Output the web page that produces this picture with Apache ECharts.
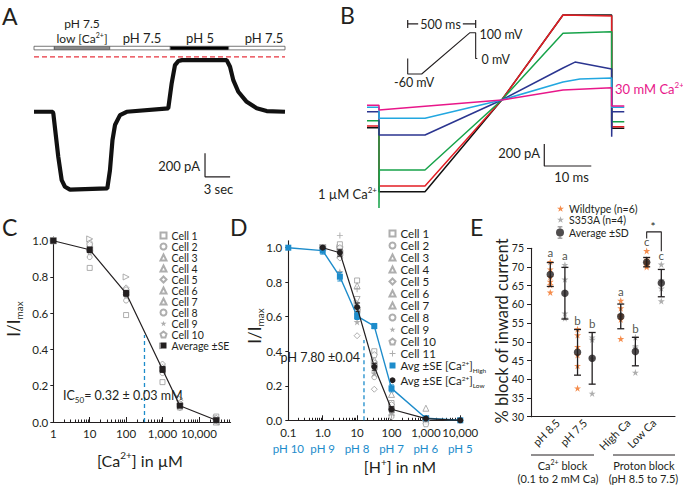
<!DOCTYPE html>
<html><head><meta charset="utf-8">
<script src="https://cdn.jsdelivr.net/npm/echarts@6/dist/echarts.min.js"></script>
<style>html,body{margin:0;padding:0;background:#fff}#c{width:683px;height:485px}</style>
</head><body><div id="c"></div>
<script>
// ---------------- DATA ----------------
// Panel A: whole-cell current trace (time in s, current in pA)
const aTime = [0, 2.23, 2.31, 2.90, 3.31, 3.70, 4.30, 8.76, 9.08, 9.38, 9.68, 10.28, 11.08, 16.05, 16.46, 16.85, 17.25, 17.69, 23.03, 23.43, 23.82, 24.42, 25.42, 26.62, 27.81, 30];
const aCurrent = [-464, -464, -478, -844, -1041, -1097, -1121, -1111, -956, -703, -576, -492, -464, -435, -222, -70, -36, -28, -28, -84, -197, -295, -380, -435, -458, -464];
// solution exchange bar
const solStart = [0, 2.43, 9.05, 16.29, 23.27];
const solEnd = [2.43, 9.05, 16.29, 23.27, 30];
const solKind = ['ctrl', 'lowCa', 'ctrl', 'acid', 'ctrl'];
const zeroCurrent = [[0, 0], [30, 0]];

// Panel B: ramp currents (time in ms, current in pA)
const ivBlack = [[0,-252],[2.55,-252],[2.55,-834],[12.34,-834],[28.66,0],[41.7,773],[52.06,773],[52.06,-257],[54.74,-257]];
const ivRed   = [[0,-236],[2.55,-236],[2.55,-782],[12.34,-782],[28.66,0],[41.7,773],[52.06,764],[52.06,-243],[54.74,-243]];
const ivGreen = [[0,-188],[2.55,-188],[2.55,-982],[2.62,-636],[12.34,-636],[28.66,0],[41.7,606],[52.06,620],[52.06,-197],[54.74,-197]];
const ivNavy  = [[0,-106],[2.55,-106],[2.55,-318],[12.34,-318],[28.66,0],[41.7,291],[44.26,345],[52.06,282],[52.06,-333],[52.12,-106],[54.74,-106]];
const ivLight = [[0,-66],[2.55,-66],[2.55,-166],[12.34,-166],[28.66,0],[41.7,164],[45.3,191],[52.06,200],[52.06,-66],[54.74,-66]];
const ivMag   = [[0,-48],[2.55,-48],[2.55,-91],[28.66,0],[41.7,91],[52.06,112],[52.06,-55],[54.74,-55]];
// voltage protocol (ms, mV)
const protoTime = [0, 0, 103, 458, 500, 500, 512];
const protoMV = [0, -60, -60, 100, 100, 0, 0];

// Panel C: Ca2+ dose response
const caConc = [1, 10, 100, 1000, 3000, 30000];
const cCells = [
  [1.0, 0.85, 0.59, 0.22, 0.08, 0.03],
  [1.0, 0.99, 0.73, 0.31, 0.09, 0.01],
  [1.0, 0.96, 0.72, 0.30, 0.10, 0.00],
  [1.0, 0.93, 0.70, 0.29, 0.08, 0.01],
  [1.0, 0.97, 0.74, 0.32, 0.12, 0.02],
  [1.0, 0.95, 0.71, 0.28, 0.09, 0.00],
  [1.0, 1.01, 0.80, 0.42, 0.13, 0.02],
  [1.0, 0.91, 0.67, 0.27, 0.08, 0.01],
  [1.0, 0.94, 0.70, 0.29, 0.09, 0.01],
  [1.0, 0.98, 0.73, 0.30, 0.10, 0.02]
];
const cAvg = [1.0, 0.95, 0.71, 0.29, 0.09, 0.01];
const cSE = [0.005, 0.015, 0.016, 0.016, 0.008, 0.005];
const cTicks = [1, 10, 100, 1000, 10000];
const ic50uM = 320, ic50Level = 0.48;

// Panel D: H+ dose response
const hConc = [0.1, 1, 3.16, 10, 31.6, 100, 1000, 10000];
const dAvgHigh = [1.0, 0.983, 0.832, 0.604, 0.546, 0.185, 0.012, 0.0];
const dSEHigh  = [0.0, 0.02, 0.025, 0.02, 0.015, 0.02, 0.005, 0.0];
const dAvgLow  = [null, 1.0, 0.971, 0.655, 0.31, 0.064, 0.01, 0.0];
const dSELow   = [null, 0.008, 0.02, 0.025, 0.02, 0.015, 0.005, 0.0];
const dCellConc = [1, 3.16, 10, 31.6, 100, 1000];
const dCells = [
  [1.0, 1.02, 0.81, 0.40, 0.10, 0.00],
  [1.0, 0.98, 0.66, 0.33, 0.07, 0.00],
  [1.0, 0.96, 0.78, 0.35, 0.15, 0.07],
  [1.0, 0.99, 0.70, 0.30, 0.04, 0.00],
  [1.0, 0.94, 0.49, 0.18, 0.03, 0.00],
  [1.0, 0.97, 0.64, 0.31, 0.06, 0.01],
  [1.0, 1.00, 0.68, 0.34, 0.08, 0.01],
  [1.0, 0.99, 0.62, 0.25, 0.02, -0.01],
  [1.0, 0.86, 0.57, 0.27, 0.05, 0.00],
  [1.0, 1.00, 0.64, 0.38, 0.09, -0.02],
  [1.0, 1.07, 0.76, 0.28, 0.03, 0.00]
];
const dTickVals = [0.1, 1, 10, 100, 1000, 10000];
const dTickNum = ['0.1', '1.0', '10', '100', '1,000', '10,000'];
const dTickPH = ['pH 10', 'pH 9', 'pH 8', 'pH 7', 'pH 6', 'pH 5'];
const pKaConc = 15.85, pKaLevel = 0.465;

// Panel E: % block of inward current
const eGroups = ['pH 8.5', 'pH 7.5', 'High Ca', 'Low Ca'];
const eGroupPos = [2.0, 4.05, 7.3, 9.25];
const eWT = [
  [71.4, 69.4, 67.4, 66.1, 65.2, 63.2],
  [53.4, 51.8, 48.7, 46.5, 43.6, 37.6],
  [61.0, 59.0, 57.2, 56.8, 56.0, 50.8],
  [74.3, 72.0, 71.3, 70.9, 70.4, 70.0]
];
const eS353A = [
  [70.6, 66.7, 57.6, 56.3],
  [51.2, 50.6, 45.6, 36.2],
  [51.2, 48.9, 48.5, 41.8],
  [70.7, 66.5, 64.3, 60.9]
];
const eAvgWT = [68.0, 47.2, 56.8, 71.3];
const eSdWT = [3.2, 6.1, 3.3, 1.25];
const eAvgS = [63.0, 45.6, 47.4, 65.7];
const eSdS = [6.9, 6.9, 3.8, 3.65];
const eLetterWT = ['a', 'b', 'a', 'c'];
const eLetterS = ['a', 'b', 'b', 'c'];

// ---------------- STYLE ----------------
const FONT = 'Lato, "Noto Sans", sans-serif';
const INK = '#231f20';
const GRAY = '#9a9a9a';
const ORANGE = '#f37021';
const BLUE = '#1d8ccb';
const SOL_COLOR = {ctrl: '#ffffff', lowCa: '#8a8a8a', acid: '#000000'};
const STAR = 'path://M50,0 L61.8,35.3 L99,35.3 L69,57.1 L80.4,92.7 L50,70.6 L19.6,92.7 L31,57.1 L1,35.3 L38.2,35.3 Z';
const PENTA = 'path://M50,2 L98,37 L80,95 L20,95 L2,37 Z';
const PLUS = 'path://M42,0 L58,0 L58,42 L100,42 L100,58 L58,58 L58,100 L42,100 L42,58 L0,58 L0,42 L42,42 Z';
const ERRBAR = 'path://M14,0 H54 V6 H37 V16 H31 V6 H14 Z M14,94 H31 V84 H37 V94 H54 V100 H14 Z M34,16 A34,34 0 1,1 34,84 A34,34 0 1,1 34,16 Z';
const CELL_STYLE = [
  {s: 'rect', z: 5, r: 0, f: false}, {s: 'circle', z: 5, r: 0, f: false},
  {s: 'triangle', z: 6, r: 0, f: false}, {s: 'triangle', z: 6, r: 180, f: false},
  {s: 'diamond', z: 6, r: 0, f: false}, {s: 'triangle', z: 6, r: 90, f: false},
  {s: 'triangle', z: 6, r: -90, f: false}, {s: 'circle', z: 5, r: 0, f: false},
  {s: STAR, z: 7, r: 0, f: true}, {s: PENTA, z: 6, r: 0, f: false}, {s: PLUS, z: 6, r: 0, f: true}
];
const cellName = i => 'Cell ' + (i + 1);

// ---------------- HELPERS ----------------
const zip = (xs, ys) => xs.map((x, i) => [x, ys[i]]);
function lineSeries(xi, yi, data, color, width, extra) {
  return Object.assign({type: 'line', xAxisIndex: xi, yAxisIndex: yi, data: data, symbol: 'none',
    lineStyle: {color: color, width: width}, itemStyle: {color: color}, silent: true, animation: false, clip: false}, extra || {});
}
function errRender(cap, width) {
  return function (params, api) {
    const x = api.value(0), lo = api.value(1), hi = api.value(2);
    const a = api.coord([x, hi]), b = api.coord([x, lo]);
    const st = {stroke: api.visual('color'), lineWidth: width};
    return {type: 'group', children: [
      {type: 'line', shape: {x1: a[0], y1: a[1], x2: b[0], y2: b[1]}, style: st},
      {type: 'line', shape: {x1: a[0] - cap, y1: a[1], x2: a[0] + cap, y2: a[1]}, style: st},
      {type: 'line', shape: {x1: b[0] - cap, y1: b[1], x2: b[0] + cap, y2: b[1]}, style: st}]};
  };
}
function errSeries(xi, yi, xs, avg, se, color, cap, width) {
  const data = [];
  xs.forEach((x, i) => { if (avg[i] != null && se[i] > 0) data.push([x, avg[i] - se[i], avg[i] + se[i]]); });
  return {type: 'custom', xAxisIndex: xi, yAxisIndex: yi, data: data, itemStyle: {color: color},
    renderItem: errRender(cap, width), silent: true, animation: false, clip: false, z: 4, encode: {x: 0, y: [1, 2]}};
}
function cellSeries(xi, yi, xs, vals, i) {
  const st = CELL_STYLE[i];
  return {type: 'scatter', name: cellName(i), xAxisIndex: xi, yAxisIndex: yi, data: zip(xs, vals),
    symbol: st.s, symbolSize: st.z, symbolRotate: st.r, silent: true, animation: false, clip: false, z: 2,
    itemStyle: st.f ? {color: GRAY} : {color: '#ffffff', borderColor: GRAY, borderWidth: 1}};
}
const rich = (sz, lh) => ({
  n: {fontSize: sz, fontFamily: FONT, color: INK, lineHeight: lh},
  sup: {fontSize: Math.round(sz * 0.6), fontFamily: FONT, color: INK, verticalAlign: 'top', lineHeight: lh},
  sub: {fontSize: Math.round(sz * 0.6), fontFamily: FONT, color: INK, verticalAlign: 'bottom', lineHeight: lh}
});
function txt(x, y, text, size, o) {
  o = o || {};
  const r = rich(size, o.lh || size + 4);
  if (o.color) { Object.keys(r).forEach(k => r[k].color = o.color); }
  return {type: 'text', x: x, y: y, rotation: o.rot || 0, z: 100, silent: true,
    style: {text: text, fontFamily: FONT, fontSize: size, fill: o.color || INK,
      align: o.align || 'left', verticalAlign: 'middle', rich: r,
      backgroundColor: o.bg, padding: o.pad}};
}
function nearestIdx(arr, v) {
  let best = 0, bd = Infinity;
  arr.forEach((a, i) => { const d = Math.abs(Math.log10(a) - Math.log10(v)); if (d < bd) { bd = d; best = i; } });
  return best;
}
function minorLog(lo, hi) {
  const out = [];
  for (let e = Math.floor(Math.log10(lo)); e <= Math.ceil(Math.log10(hi)); e++) {
    for (let k = 2; k <= 9; k++) { const v = k * Math.pow(10, e); if (v > lo && v < hi) out.push(v); }
  }
  return out;
}

// ---------------- AXES ----------------
const hidden = (gi, min, max) => ({type: 'value', gridIndex: gi, min: min, max: max, show: false});
const axLine = {show: true, lineStyle: {color: INK, width: 1.1}};
const C_MAX = 74300, D_MIN = 0.1, D_MAX = 10000;

const xAxis = [
  hidden(0, 0, 30), hidden(1, 0, 55), hidden(2, 0, 512),
  {type: 'log', gridIndex: 3, position: 'bottom', min: 1, max: C_MAX, axisLine: axLine, splitLine: {show: false},
    axisTick: {show: true, inside: true, length: 5, lineStyle: {color: INK}, customValues: cTicks},
    axisLabel: {customValues: cTicks, margin: 5, fontFamily: FONT, fontSize: 11.5, color: INK,
      formatter: v => cTicks[nearestIdx(cTicks, v)].toLocaleString('en-US')}},
  {type: 'log', gridIndex: 3, position: 'bottom', min: 1, max: C_MAX, axisLine: {show: false}, splitLine: {show: false},
    axisLabel: {show: false}, axisTick: {show: true, inside: true, length: 2.5, lineStyle: {color: INK}, customValues: minorLog(1, C_MAX)}},
  {type: 'log', gridIndex: 4, position: 'bottom', min: D_MIN, max: D_MAX, axisLine: axLine, splitLine: {show: false},
    axisTick: {show: true, inside: true, length: 5, lineStyle: {color: INK}, customValues: dTickVals},
    axisLabel: {customValues: dTickVals, margin: 4, fontFamily: FONT, fontSize: 11.5, color: INK,
      formatter: v => { const i = nearestIdx(dTickVals, v); return '{n|' + dTickNum[i] + '}\n{p|' + dTickPH[i] + '}'; },
      rich: {n: {fontFamily: FONT, fontSize: 11.5, color: INK, lineHeight: 16}, p: {fontFamily: FONT, fontSize: 11.5, color: BLUE, lineHeight: 16}}}},
  {type: 'log', gridIndex: 4, position: 'bottom', min: D_MIN, max: D_MAX, axisLine: {show: false}, splitLine: {show: false},
    axisLabel: {show: false}, axisTick: {show: true, inside: true, length: 2.5, lineStyle: {color: INK}, customValues: minorLog(D_MIN, D_MAX)}},
  {type: 'value', gridIndex: 5, position: 'bottom', min: 0, max: 10.83, axisLine: axLine, splitLine: {show: false}, axisTick: {show: false},
    axisLabel: {customValues: eGroupPos, rotate: 45, margin: 4, fontFamily: FONT, fontSize: 11, color: INK,
      formatter: v => eGroups[eGroupPos.reduce((b, p, i) => Math.abs(p - v) < Math.abs(eGroupPos[b] - v) ? i : b, 0)]}}
];
const yFrac = [0, 0.2, 0.4, 0.6, 0.8, 1.0];
const yAxis = [
  hidden(0, -1200, 150), hidden(1, -1050, 860), hidden(2, -60, 100),
  {type: 'value', gridIndex: 3, min: 0, max: 1.02, axisLine: axLine, splitLine: {show: false},
    axisTick: {show: true, length: 3, lineStyle: {color: INK}, customValues: yFrac},
    axisLabel: {customValues: yFrac, margin: 5, fontFamily: FONT, fontSize: 11.5, color: INK, formatter: v => v.toFixed(1)}},
  {type: 'value', gridIndex: 4, min: 0, max: 1.04, axisLine: axLine, splitLine: {show: false},
    axisTick: {show: true, length: 3, lineStyle: {color: INK}, customValues: yFrac},
    axisLabel: {customValues: yFrac, margin: 6, fontFamily: FONT, fontSize: 11.5, color: INK, formatter: v => v.toFixed(1)}},
  {type: 'value', gridIndex: 5, min: 30, max: 75, interval: 5, axisLine: axLine, splitLine: {show: false},
    axisTick: {show: true, length: 4, lineStyle: {color: INK}},
    axisLabel: {margin: 7, fontFamily: FONT, fontSize: 10.5, color: INK}}
];

// ---------------- SERIES ----------------
const series = [];
// Panel A
series.push({type: 'custom', xAxisIndex: 0, yAxisIndex: 0, silent: true, animation: false, clip: false, z: 5,
  data: solStart.map((s, i) => ({value: [s, solEnd[i]], itemStyle: {color: SOL_COLOR[solKind[i]]}})),
  renderItem: (p, api) => {
    const a = api.coord([api.value(0), 0]), b = api.coord([api.value(1), 0]);
    return {type: 'rect', shape: {x: a[0], y: a[1] - 10.5, width: b[0] - a[0], height: 3.6},
      style: {fill: api.visual('color'), stroke: '#555', lineWidth: 0.8}};
  }});
series.push(lineSeries(0, 0, zeroCurrent, '#e8343f', 1.2, {lineStyle: {color: '#e8343f', width: 1.2, type: [5, 3]}, z: 2}));
series.push(lineSeries(0, 0, zip(aTime, aCurrent), '#111', 4.2, {z: 3}));
// scale bar A: 200 pA, 3 s
series.push(lineSeries(0, 0, [[20.44, -813], [20.44, -1013], [23.44, -1013]], INK, 1.2));

// Panel B
[[ivBlack, '#111111'], [ivRed, '#e31e24'], [ivGreen, '#17a34a'], [ivNavy, '#2b3590'], [ivLight, '#22a7e0'], [ivMag, '#e8178a']]
  .forEach(([d, c]) => series.push(lineSeries(1, 1, d, c, 1.5, {z: 3})));
series.push(lineSeries(1, 1, [[37.72, -400], [37.72, -600], [47.72, -600]], INK, 1.2));
// inset protocol
series.push(lineSeries(2, 2, zip(protoTime, protoMV), INK, 1.1));
series.push(lineSeries(2, 2, [[0, 134], [500, 134]], INK, 1.1, {symbol: 'rect', symbolSize: [1.2, 8], showSymbol: true}));

// Panel C
cCells.forEach((vals, i) => series.push(cellSeries(3, 3, caConc, vals, i)));
series.push(lineSeries(3, 3, [[ic50uM, 0], [ic50uM, ic50Level]], BLUE, 1.3, {lineStyle: {color: BLUE, width: 1.3, type: [4, 3]}}));
series.push(errSeries(3, 3, caConc, cAvg, cSE, INK, 2.5, 1));
series.push(lineSeries(3, 3, zip(caConc, cAvg), INK, 1.2, {name: 'Average ±SE', symbol: 'rect', symbolSize: 6, showSymbol: true, z: 5}));

// Panel D
dCells.forEach((vals, i) => series.push(cellSeries(5, 4, dCellConc, vals, i)));
series.push(lineSeries(5, 4, [[pKaConc, 0], [pKaConc, pKaLevel]], BLUE, 1.3, {lineStyle: {color: BLUE, width: 1.3, type: [4, 3]}}));
series.push(errSeries(5, 4, hConc, dAvgHigh, dSEHigh, BLUE, 2.5, 1));
series.push(errSeries(5, 4, hConc, dAvgLow, dSELow, INK, 2.5, 1));
series.push(lineSeries(5, 4, zip(hConc, dAvgHigh), BLUE, 1.4, {name: 'AvgHigh', symbol: 'rect', symbolSize: 6, showSymbol: true, z: 5}));
series.push(lineSeries(5, 4, zip(hConc, dAvgLow).filter(p => p[1] != null), INK, 1.2, {name: 'AvgLow', symbol: 'circle', symbolSize: 6, showSymbol: true, z: 6}));

// Panel E
const PAIR = 0.55;
const wtX = eGroupPos.map(p => p - PAIR), sX = eGroupPos.map(p => p + PAIR);
const flat = (xs, groups) => groups.flatMap((g, i) => g.map(v => [xs[i], v]));
series.push({type: 'scatter', name: 'Wildtype (n=6)', xAxisIndex: 7, yAxisIndex: 5, data: flat(wtX, eWT), symbol: STAR, symbolSize: 7,
  itemStyle: {color: ORANGE}, silent: true, animation: false, clip: false, z: 2});
series.push({type: 'scatter', name: 'S353A (n=4)', xAxisIndex: 7, yAxisIndex: 5, data: flat(sX, eS353A), symbol: STAR, symbolSize: 7,
  itemStyle: {color: GRAY}, silent: true, animation: false, clip: false, z: 2});
series.push(errSeries(7, 5, wtX, eAvgWT, eSdWT, INK, 3.5, 1.3));
series.push(errSeries(7, 5, sX, eAvgS, eSdS, INK, 3.5, 1.3));
series.push({type: 'scatter', name: 'Average ±SD', xAxisIndex: 7, yAxisIndex: 5,
  data: zip(wtX, eAvgWT).concat(zip(sX, eAvgS)), symbol: 'circle', symbolSize: 7.5,
  itemStyle: {color: INK}, silent: true, animation: false, clip: false, z: 5});
const letterData = wtX.map((x, i) => ({value: [x, Math.max(eAvgWT[i] + eSdWT[i], ...eWT[i])], label: {formatter: eLetterWT[i]}}))
  .concat(sX.map((x, i) => ({value: [x, Math.max(eAvgS[i] + eSdS[i], ...eS353A[i])], label: {formatter: eLetterS[i]}})));
series.push({type: 'scatter', xAxisIndex: 7, yAxisIndex: 5, data: letterData, symbolSize: 0, silent: true, animation: false, clip: false,
  label: {show: true, position: 'top', distance: 3, fontFamily: FONT, fontSize: 11.5, color: INK}});
// significance bracket between low-Ca groups
series.push(lineSeries(7, 5, [[wtX[3], 77.6], [wtX[3], 79.4], [sX[3], 79.4], [sX[3], 74.2]], INK, 1.1));

// ---------------- TEXT ----------------
const graphic = [
  txt(2, 16, 'A', 23), txt(340, 15, 'B', 23), txt(2, 227, 'C', 23), txt(230, 227, 'D', 23), txt(470, 227, 'E', 23),
  // A
  txt(82, 31, '{n|pH 7.5}\n{n|low [Ca}{sup|2+}{n|]}', 12, {align: 'center', lh: 14.5}),
  txt(142, 38, 'pH 7.5', 13, {align: 'center'}), txt(200, 38, 'pH 5', 13, {align: 'center'}), txt(264, 38, 'pH 7.5', 13, {align: 'center'}),
  txt(200, 166, '200 pA', 13, {align: 'right'}), txt(218.5, 189, '3 sec', 13, {align: 'center'}),
  // B
  txt(440.5, 24, '500 ms', 12.5, {align: 'center', bg: '#fff', pad: [0, 2]}),
  txt(479.5, 34.5, '100 mV', 12.5), txt(481.5, 59, '0 mV', 12.5), txt(394, 82, '-60 mV', 12.5),
  txt(540, 152.5, '200 pA', 13, {align: 'right'}), txt(571.5, 176.5, '10 ms', 13, {align: 'center'}),
  txt(615, 89, '{n|30 mM Ca}{sup|2+}', 13, {color: '#e8178a'}),
  txt(377, 194, '{n|1 µM Ca}{sup|2+}', 13, {align: 'right'}),
  // C
  txt(63, 395.5, '{n|IC}{sub|50}{n|= 0.32 ± 0.03 mM}', 12.5),
  txt(140, 460, '{n|[Ca}{sup|2+}{n|] in µM}', 16, {align: 'center'}),
  txt(13, 319, '{n|I/I}{sub|max}', 17, {align: 'center', rot: Math.PI / 2}),
  // D
  txt(360, 357.5, 'pH 7.80 ±0.04', 12.5, {align: 'right'}),
  txt(400, 466.5, '{n|[H}{sup|+}{n|] in nM}', 16, {align: 'center'}),
  txt(254, 326, '{n|I/I}{sub|max}', 17, {align: 'center', rot: Math.PI / 2}),
  // E
  txt(502, 331, '% block of inward current', 16.5, {align: 'center', rot: Math.PI / 2}),
  txt(653, 226, '*', 12, {align: 'center'}),
  {type: 'line', shape: {x1: 531, y1: 455, x2: 594, y2: 455}, style: {stroke: INK, lineWidth: 1}, silent: true},
  {type: 'line', shape: {x1: 613, y1: 455, x2: 675, y2: 455}, style: {stroke: INK, lineWidth: 1}, silent: true},
  txt(562.5, 465.5, '{n|Ca}{sup|2+}{n| block}', 11, {align: 'center'}),
  txt(558, 478, '(0.1 to 2 mM Ca)', 11, {align: 'center'}),
  txt(644, 465.5, 'Proton block', 11, {align: 'center'}),
  txt(643.5, 478, '(pH 8.5 to 7.5)', 11, {align: 'center'})
];

// ---------------- LEGENDS ----------------
const legendBase = {orient: 'vertical', itemGap: 0, padding: 0, selectedMode: false, itemWidth: 6, itemHeight: 6};
const legend = [
  Object.assign({}, legendBase, {left: 159.5, top: 230,
    data: cCells.map((_, i) => ({name: cellName(i)})).concat([{name: 'Average ±SE', icon: 'rect', itemStyle: {color: INK}}]),
    textStyle: {fontFamily: FONT, fontSize: 10.5, color: INK, lineHeight: 10.64}}),
  Object.assign({}, legendBase, {left: 388.5, top: 227.5,
    data: dCells.map((_, i) => ({name: cellName(i)})).concat([{name: 'AvgHigh', icon: 'rect', itemStyle: {color: BLUE}}, {name: 'AvgLow', icon: 'circle', itemStyle: {color: INK}}]),
    formatter: n => n === 'AvgHigh' ? '{n|Avg ±SE [Ca}{sup|2+}{n|]}{sub|High}' : (n === 'AvgLow' ? '{n|Avg ±SE [Ca}{sup|2+}{n|]}{sub|Low}' : n),
    textStyle: {fontFamily: FONT, fontSize: 11.5, color: INK, lineHeight: 11.53,
      rich: {n: {fontFamily: FONT, fontSize: 11.5, color: INK, lineHeight: 11.53},
        sup: {fontFamily: FONT, fontSize: 6.5, color: INK, verticalAlign: 'top', lineHeight: 11.53},
        sub: {fontFamily: FONT, fontSize: 6.5, color: INK, verticalAlign: 'bottom', lineHeight: 11.53, padding: [0, 0, -3, 0]}}}}),
  Object.assign({}, legendBase, {left: 557, top: 203, itemWidth: 7, itemHeight: 7, data: [{name: 'Wildtype (n=6)'}, {name: 'S353A (n=4)'}],
    textStyle: {fontFamily: FONT, fontSize: 10.5, color: INK, lineHeight: 10.7}}),
  Object.assign({}, legendBase, {left: 556, top: 226.5, itemWidth: 8, itemHeight: 12,
    data: [{name: 'Average ±SD', icon: ERRBAR, itemStyle: {color: INK}}],
    textStyle: {fontFamily: FONT, fontSize: 10.5, color: INK, lineHeight: 12}})
];

const mkGrid = (l, t, w, h) => ({left: l, top: t, width: w, height: h, outerBoundsMode: 'none', containLabel: false, show: false});
const chart = echarts.init(document.getElementById('c'), null, {renderer: 'svg', width: 683, height: 485});
chart.setOption({
  animation: false, backgroundColor: '#ffffff',
  textStyle: {fontFamily: FONT},
  grid: [mkGrid(34, 39, 251, 160), mkGrid(367, 5.4, 258.5, 210.1), mkGrid(407.7, 32.7, 69.6, 41.3),
    mkGrid(53.3, 237.1, 177.3, 184.9), mkGrid(288.3, 240.8, 172, 179.5), mkGrid(531, 248.3, 144, 168.4)],
  xAxis: xAxis, yAxis: yAxis, series: series, legend: legend, graphic: graphic
});
</script></body></html>
